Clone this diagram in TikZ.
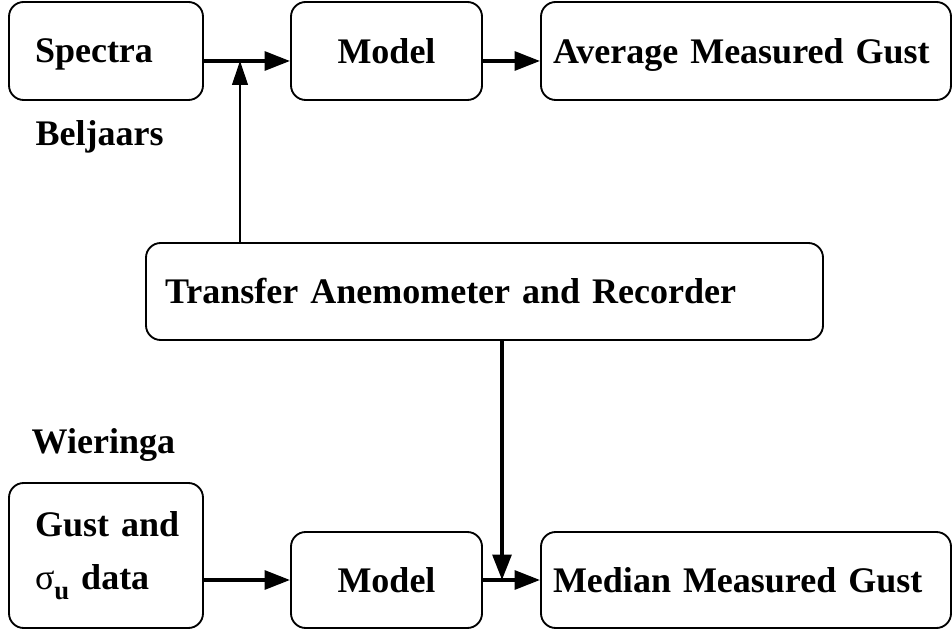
\documentclass[tikz,border=0pt]{standalone}
\usepackage{fontspec}
\setmainfont{Liberation Serif}
\usepackage{tikz}
\usetikzlibrary{arrows.meta,positioning}
\definecolor{ink}{HTML}{000000}

\begin{document}
\begin{tikzpicture}[x=0.75pt,y=-0.75pt,
    box/.style={rounded corners=11pt,draw=ink,line width=1.4pt,text=ink,inner ysep=0pt,font=\fontsize{27}{40}\selectfont\bfseries},
    wide/.style={box,minimum width=145.5pt,text width=106.5pt,inner xsep=19.5pt,align=left},
    model/.style={box,minimum width=143.25pt,minimum height=72pt,align=center},
    gust/.style={box,minimum width=307.5pt,minimum height=72pt,text width=289.5pt,inner xsep=9pt,text depth=0pt,align=left},
    lbl/.style={anchor=west,text=ink,font=\fontsize{27}{32}\selectfont\bfseries},
    arr/.style={-{Triangle[length=19pt,width=14pt]},line width=2.8pt,draw=ink},
    thinarr/.style={-{Triangle[length=18pt,width=12pt]},line width=0.8pt,draw=ink}]
    \useasboundingbox (0,0) rectangle (952,630);
    % top row
    \node[wide,minimum height=73.5pt,text depth=0pt] (spec) at (106,51) {Spectra};
    \node[model,minimum height=73.5pt] (modA) at (386.5,51) {Model};
    \node[gust,minimum height=73.5pt] (avg) at (746,51) {Average Measured Gust};
    \node[lbl] (bel) at (31,137) {Beljaars};
    % middle
    \node[box,minimum width=507.75pt,minimum height=72.75pt,text width=479.25pt,inner xsep=14.25pt,align=left] (tr) at (484.5,291.5) {Transfer Anemometer and Recorder};
    % bottom row
    \node[lbl] (wie) at (27,445) {Wieringa};
    \node[wide,minimum height=108.75pt] (data) at (106,555.5) {Gust~and\\{\mdseries σ}\raisebox{-7pt}{\fontsize{20}{20}\selectfont u} data};
    \node[model] (modB) at (386.5,580) {Model};
    \node[gust] (med) at (746,580) {Median Measured Gust};
    \coordinate (j) at (240,61);
    \coordinate (k) at (502,580);
    \draw[arr] ([yshift=-7.5pt]spec.east) -- ([yshift=-7.5pt]modA.west);
    \draw[arr] ([yshift=-7.5pt]modA.east) -- ([yshift=-7.5pt]avg.west);
    \draw[thinarr] (j |- tr.north) -- (j);
    \draw[arr] (data.east |- modB.west) -- (modB.west);
    \draw[arr] (modB.east) -- (med.west);
    \draw[arr] (k |- tr.south) -- (k);
\end{tikzpicture}
\end{document}
